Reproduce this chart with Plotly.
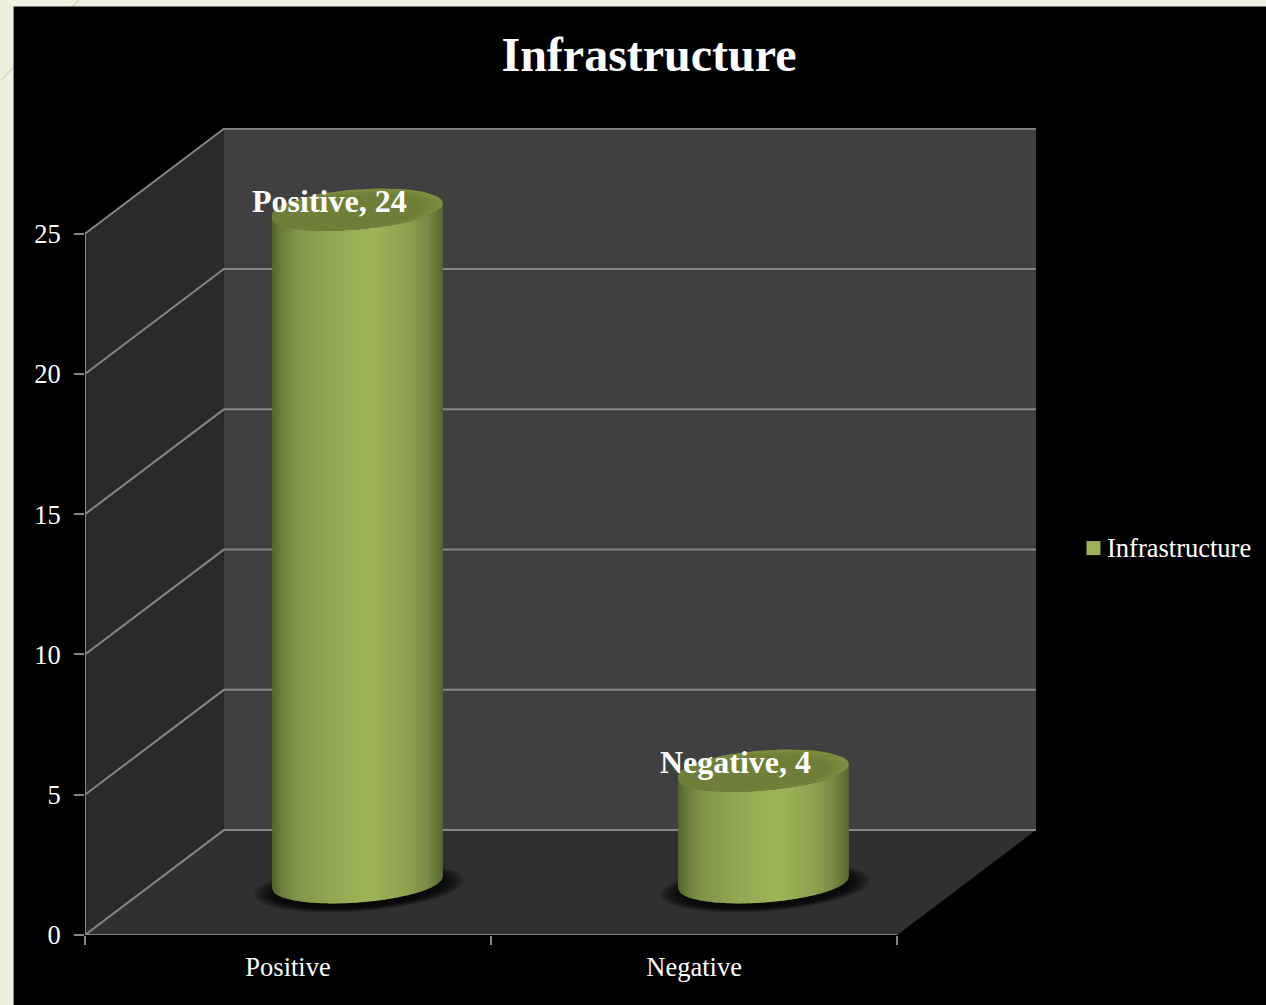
import numpy as np
import plotly.graph_objects as go

categories = ["Positive", "Negative"]
values = [24, 4]
series_name = "Infrastructure"
y_ticks = [0, 5, 10, 15, 20, 25]

W, H = 1266, 1005
ML, MR, MT, MB = 84.5, 227.5, 127.5, 69.7
PX_X = 406.5
PX_Y = 28.08
DEPTH_X = 0.342
DEPTH_Y = 3.739
PW, PH = W - ML - MR, H - MT - MB
XMAX = PW / PX_X
YMAX = PH / PX_Y
HALF_W = 85.5 / PX_X
EL_R = 20 / PX_Y
EL_S = 6 / PX_Y

FONT = "Liberation Serif"
GRID = "#858585"


def hex2rgb(h):
    return np.array([int(h[i:i + 2], 16) for i in (1, 3, 5)], float)


STOPS = [(0.0, "#566830"), (0.04, "#687b3a"), (0.14, "#82974a"), (0.35, "#92a952"),
         (0.58, "#9eb557"), (0.78, "#8ea350"), (0.9, "#7a8c48"), (0.97, "#5f7136"), (1.0, "#526230")]


def shade(t):
    xs = [s[0] for s in STOPS]
    c = [np.interp(t, xs, [hex2rgb(s[1])[k] for s in STOPS]) for k in range(3)]
    return "rgb(%d,%d,%d)" % tuple(c)


def poly(x, y, color):
    return go.Scatter(x=list(x), y=list(y), mode="lines", fill="toself", fillcolor=color,
                      line=dict(width=0, color=color), showlegend=False, hoverinfo="skip",
                      cliponaxis=False)


def ellipse(cx, cy, ka=1.0, kb=1.0, n=90):
    t = np.linspace(0, 2 * np.pi, n)
    return cx + HALF_W * ka * np.cos(t), cy + (EL_S * np.cos(t) + EL_R * np.sin(t)) * kb


def px_paper_x(p):
    return (p - ML) / PW


def px_paper_y(p):
    return (H - MB - p) / PH


fig = go.Figure()
n_cat = len(categories)

# walls and floor
fig.add_trace(poly([0, DEPTH_X, DEPTH_X, 0], [0, DEPTH_Y, 25 + DEPTH_Y, 25], "#2a2a2a"))
fig.add_trace(poly([0, n_cat, n_cat + DEPTH_X, DEPTH_X], [0, 0, DEPTH_Y, DEPTH_Y], "#303030"))
fig.add_trace(poly([DEPTH_X, n_cat + DEPTH_X, n_cat + DEPTH_X, DEPTH_X],
                   [DEPTH_Y, DEPTH_Y, 25 + DEPTH_Y, 25 + DEPTH_Y], "#404040"))

# gridlines
for v in y_ticks:
    fig.add_trace(go.Scatter(x=[0, DEPTH_X, n_cat + DEPTH_X], y=[v, v + DEPTH_Y, v + DEPTH_Y],
                             mode="lines", line=dict(color=GRID, width=2), showlegend=False,
                             hoverinfo="skip", cliponaxis=False))
# axis lines
fig.add_trace(go.Scatter(x=[0, 0], y=[0, 25], mode="lines", line=dict(color=GRID, width=2),
                         showlegend=False, hoverinfo="skip", cliponaxis=False))
fig.add_trace(go.Scatter(x=[0, n_cat], y=[0, 0], mode="lines", line=dict(color=GRID, width=2.2),
                         showlegend=False, hoverinfo="skip", cliponaxis=False))

# cylinders
N = 70
for i, v in enumerate(values):
    cx = i + 0.5 + DEPTH_X / 2
    by = DEPTH_Y / 2
    ty = by + v
    # soft shadow on the floor
    for k in np.linspace(1.24, 0.98, 22):
        ex, ey = ellipse(cx + 1.5 / PX_X, by - 5 / PX_Y, k, 1 + (k - 1) * 0.85)
        fig.add_trace(poly(ex, ey, "rgba(0,0,0,0.05)"))
    # side, in thin vertical slices
    edges = np.linspace(-1, 1, N + 1)
    for a, b in zip(edges[:-1], edges[1:]):
        b2 = min(b + 0.012, 1)
        us = np.linspace(a, b2, 4)
        xs = cx + HALF_W * us
        low = -EL_R * np.sqrt(1 - us ** 2) + EL_S * us
        ys = np.concatenate([by + low, (ty + low)[::-1]])
        xp = np.concatenate([xs, xs[::-1]])
        fig.add_trace(poly(xp, ys, shade((a + 1) / 2)))
    # top face: lighter rim at the upper right, darker toward the lower left
    tones = ["#7c8e3f", "#798a3e", "#76873c", "#73843b", "#71813a", "#6f7f39"]
    for j, c in enumerate(tones):
        k = 1 - j * 0.025
        ex, ey = ellipse(cx - j * 0.025 * HALF_W, ty - j * 0.035 * EL_R, k, k)
        fig.add_trace(poly(ex, ey, c))

# legend entry (its swatch is placed by the shape below, the legend keeps the text)
fig.add_trace(go.Scatter(x=[None], y=[None], mode="markers", name=series_name,
                         marker=dict(symbol="square", size=14, color="rgba(155,179,85,0)"), hoverinfo="skip"))

shapes = [
    dict(type="line", xref="paper", yref="paper", x0=px_paper_x(0), x1=px_paper_x(78),
         y0=px_paper_y(80), y1=px_paper_y(0), line=dict(color="#d6d9c6", width=1.5), layer="below"),
    dict(type="rect", xref="paper", yref="paper", x0=px_paper_x(13), x1=px_paper_x(W + 10),
         y0=px_paper_y(H + 10), y1=px_paper_y(6), fillcolor="#000000", line=dict(width=0), layer="below"),
    dict(type="rect", xref="paper", yref="paper", x0=px_paper_x(1087), x1=px_paper_x(1101),
         y0=px_paper_y(555), y1=px_paper_y(541), fillcolor="#9bb355", line=dict(width=0), layer="above"),
]

annotations = []
for i, v in enumerate(values):
    annotations.append(dict(x=i + 0.5 + DEPTH_X / 2, y=DEPTH_Y / 2 + v, xref="x", yref="y",
                            text=f"{categories[i]}, {v}", showarrow=False, xshift=-28, yshift=8,
                            font=dict(family=FONT, size=32, color="#ffffff", weight=700)))

fig.update_layout(
    width=W, height=H, autosize=False,
    margin=dict(l=ML, r=MR, t=MT, b=MB, pad=0),
    paper_bgcolor="#eef1df", plot_bgcolor="rgba(0,0,0,0)",
    shapes=shapes, annotations=annotations,
    title=dict(text=series_name, xref="container", yref="container", x=649 / W, y=1 - 54 / H,
               xanchor="center", yanchor="middle",
               font=dict(family=FONT, size=48, color="#ffffff", weight=700)),
    xaxis=dict(range=[0, XMAX], tickmode="array", tickvals=[i + 0.5 for i in range(n_cat)],
               ticktext=categories, ticks="", showgrid=False, zeroline=False, showline=False,
               ticklabelstandoff=13,
               tickfont=dict(family=FONT, size=26.5, color="#ffffff"),
               minor=dict(tickmode="array", tickvals=list(range(n_cat + 1)), ticks="outside",
                          ticklen=9, tickwidth=2, tickcolor=GRID, showgrid=False)),
    yaxis=dict(range=[0, YMAX], tickmode="array", tickvals=y_ticks, ticks="outside", ticklen=10,
               tickwidth=2, tickcolor=GRID, showgrid=False, zeroline=False, showline=False,
               ticklabelstandoff=8,
               tickfont=dict(family=FONT, size=26.5, color="#ffffff")),
    legend=dict(xref="container", yref="container", x=1067 / W, y=1 - 547 / H, xanchor="left", yanchor="middle",
                bgcolor="rgba(0,0,0,0)", font=dict(family=FONT, size=26.5, color="#ffffff")),
    showlegend=True,
)

fig.write_html("out.html", config=dict(displayModeBar=False),
               post_script="document.body.style.margin='0';document.documentElement.style.overflow='hidden';")
